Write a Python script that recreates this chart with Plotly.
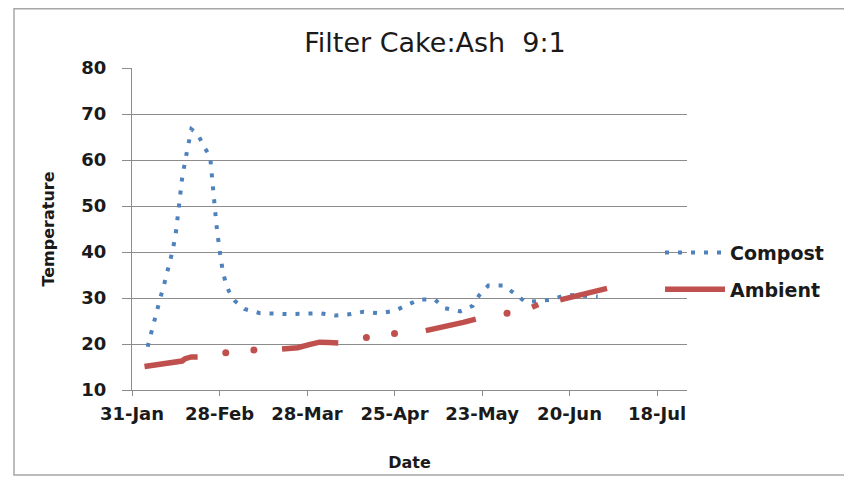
import plotly.graph_objects as go

# Compost temperature (dotted blue line)
compost_dates = [
    "2011-02-05", "2011-02-06", "2011-02-07", "2011-02-08", "2011-02-09",
    "2011-02-10", "2011-02-11", "2011-02-12", "2011-02-13", "2011-02-14",
    "2011-02-15", "2011-02-16", "2011-02-17", "2011-02-18", "2011-02-19",
    "2011-02-21", "2011-02-23", "2011-02-25", "2011-02-26", "2011-02-27",
    "2011-02-28", "2011-03-01", "2011-03-02", "2011-03-03", "2011-03-05",
    "2011-03-08", "2011-03-13", "2011-03-18", "2011-03-22", "2011-03-27",
    "2011-04-01", "2011-04-06", "2011-04-11", "2011-04-15", "2011-04-20",
    "2011-04-25", "2011-04-29", "2011-05-03", "2011-05-08", "2011-05-11",
    "2011-05-16", "2011-05-20", "2011-05-22", "2011-05-25", "2011-05-30",
    "2011-06-02", "2011-06-06", "2011-06-14", "2011-06-19", "2011-06-29",
]
compost_temp = [
    19.4, 22.2, 25.0, 27.6, 29.9,
    32.2, 34.8, 37.6, 40.3, 44.0,
    50.6, 55.8, 59.8, 63.4, 66.7,
    65.7, 62.9, 60.8, 52.5, 46.0,
    40.5, 36.0, 33.2, 31.5, 29.3,
    27.6, 26.7, 26.5, 26.5, 26.6,
    26.7, 26.2, 26.5, 27.0, 26.7,
    27.2, 28.5, 29.7, 29.6, 27.8,
    27.1, 28.3, 30.5, 32.7, 32.7,
    31.2, 29.1, 29.6, 30.7, 30.3,
]

# Ambient temperature (thick red line, None = missing readings)
ambient_dates = [
    "2011-02-04", "2011-02-06", "2011-02-08", "2011-02-10", "2011-02-12",
    "2011-02-14", "2011-02-15", "2011-02-16", "2011-02-17", "2011-02-18",
    "2011-02-19", "2011-02-21", "2011-02-26",
    "2011-03-02", "2011-03-06",
    "2011-03-11", "2011-03-15",
    "2011-03-20", "2011-03-25", "2011-03-29", "2011-04-01", "2011-04-04",
    "2011-04-07", "2011-04-11",
    "2011-04-16", "2011-04-20",
    "2011-04-25", "2011-04-30",
    "2011-05-05", "2011-05-09", "2011-05-13", "2011-05-17", "2011-05-21",
    "2011-05-26",
    "2011-05-31", "2011-06-04",
    "2011-06-08", "2011-06-10", "2011-06-13",
    "2011-06-17", "2011-06-21", "2011-06-25", "2011-06-29", "2011-07-02",
]
ambient_temp = [
    15.1, 15.3, 15.5, 15.6, 15.8,
    15.9, 16.0, 16.3, 16.8, 17.1,
    17.2, 17.2, None,
    18.1, None,
    18.7, None,
    18.9, 19.2, 19.9, 20.4, 20.3,
    20.2, None,
    21.4, None,
    22.3, None,
    22.9, 23.4, 24.0, 24.7, 25.4,
    None,
    26.7, None,
    28.0, 28.6, None,
    29.6, 30.2, 30.9, 31.5, 32.1,
]

tick_dates = ["2011-01-31", "2011-02-28", "2011-03-28", "2011-04-25",
              "2011-05-23", "2011-06-20", "2011-07-18"]
tick_labels = ["31-Jan", "28-Feb", "28-Mar", "25-Apr", "23-May", "20-Jun", "18-Jul"]

# readings with no neighbour on either side show up as single blobs
lone_dates, lone_temp = [], []
for i, v in enumerate(ambient_temp):
    prev_v = ambient_temp[i - 1] if i > 0 else None
    next_v = ambient_temp[i + 1] if i < len(ambient_temp) - 1 else None
    if v is not None and prev_v is None and next_v is None:
        lone_dates.append(ambient_dates[i])
        lone_temp.append(v)

blue = "#4F81BD"
red = "#C0504D"
grid = "#8C8C8C"

# page body has an 8px margin, so the figure is 8px smaller than the window
W, H = 844, 475
L, R, T, B = 124, 165, 60, 93
pw, ph = W - L - R, H - T - B

fig = go.Figure()

fig.add_trace(go.Scatter(
    x=compost_dates, y=compost_temp,
    mode="lines", name="Compost", legendgroup="c",
    line=dict(color=blue, width=4, dash="4px,9px"),
))

fig.add_trace(go.Scatter(
    x=ambient_dates, y=ambient_temp,
    mode="lines", name="Ambient", legendgroup="a",
    connectgaps=False,
    line=dict(color=red, width=5.5),
))

fig.add_trace(go.Scatter(
    x=lone_dates, y=lone_temp,
    mode="markers", showlegend=False, legendgroup="a",
    marker=dict(color=red, size=7),
))

fig.update_layout(
    width=W, height=H,
    margin=dict(l=L, r=R, t=T, b=B),
    paper_bgcolor="white", plot_bgcolor="white",
    title=dict(
        text="Filter Cake:Ash&nbsp; 9:1",
        x=427 / W, xref="container", xanchor="center",
        y=1 - 35 / H, yref="container", yanchor="middle",
        font=dict(family="DejaVu Sans", size=27, color="#1a1a1a"),
    ),
    legend=dict(
        x=(652 - L) / pw, xanchor="left", y=0.4855, yanchor="top",
        itemwidth=60, tracegroupgap=9, traceorder="grouped",
        bgcolor="rgba(0,0,0,0)",
        font=dict(family="DejaVu Sans", size=19, color="#1a1a1a", weight="bold"),
    ),
    showlegend=True,
)

fig.update_xaxes(
    type="date",
    range=["2011-01-31", "2011-07-27 14:00"],
    tickvals=tick_dates, ticktext=tick_labels,
    showgrid=False, zeroline=False,
    showline=True, linecolor=grid, linewidth=1,
    ticks="outside", ticklen=5, tickcolor=grid,
    ticklabelstandoff=2,
    tickfont=dict(family="DejaVu Sans", size=18, color="#1a1a1a", weight="bold"),
    title=dict(text="Date", standoff=34,
               font=dict(family="DejaVu Sans", size=16, color="#1a1a1a", weight="bold")),
    automargin=False,
)

fig.update_yaxes(
    range=[10, 80], dtick=10,
    showgrid=True, gridcolor=grid, gridwidth=1,
    zeroline=False,
    showline=True, linecolor=grid, linewidth=1,
    ticks="outside", ticklen=9, tickcolor=grid,
    ticklabelstandoff=12,
    tickfont=dict(family="DejaVu Sans", size=18, color="#1a1a1a", weight="bold"),
    title=dict(text="Temperature", standoff=22,
               font=dict(family="DejaVu Sans", size=16, color="#1a1a1a", weight="bold")),
    automargin=False,
)

# light frame around the whole chart area
fig.add_shape(
    type="rect", xref="paper", yref="paper",
    x0=(6 - L) / pw, x1=(839 - L) / pw,
    y0=(H - B - 467) / ph, y1=(H - B - 0.75) / ph,
    line=dict(color="#A6A6A6", width=1.5), layer="below",
)

fig.write_html("out.html")
